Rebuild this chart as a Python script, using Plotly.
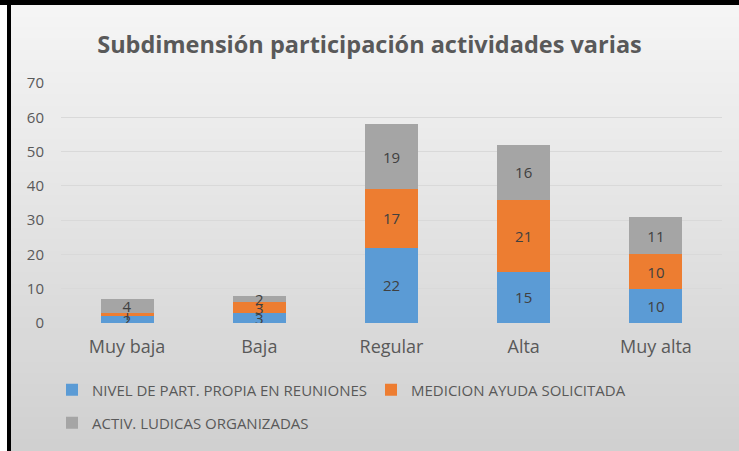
import plotly.graph_objects as go

categories = ["Muy baja", "Baja", "Regular", "Alta", "Muy alta"]
series_names = ["NIVEL DE PART. PROPIA EN REUNIONES", "MEDICION AYUDA SOLICITADA", "ACTIV. LUDICAS ORGANIZADAS"]
nivel = [2, 3, 22, 15, 10]
medicion = [1, 3, 17, 21, 10]
ludicas = [4, 2, 19, 16, 11]
y_ticks = [0, 10, 20, 30, 40, 50, 60, 70]
colors = ["#5B9BD5", "#ED7D31", "#A5A5A5"]

W, H = 739, 451
L, R, T, B = 61, 17, 83, 128
pw, ph = W - L - R, H - T - B

def px2x(px):
    return (px - L) / pw

def py2y(py):
    return (H - B - py) / ph

legend_ids = ["legend", "legend2", "legend3"]

fig = go.Figure()
for name, vals, col, lg in zip(series_names, [nivel, medicion, ludicas], colors, legend_ids):
    fig.add_trace(go.Bar(
        x=categories, y=vals, name=name, marker_color=col, marker_line_width=0,
        text=vals, textposition="inside", insidetextanchor="middle", textangle=0,
        textfont=dict(size=15, color="#404040", family="Open Sans"),
        legend=lg, showlegend=True,
    ))

shapes = []
# vertical gradient background
top_c = (245, 245, 245)
bot_c = (208, 208, 208)
n = 40
for i in range(n):
    f = i / (n - 1)
    c = tuple(int(round(top_c[k] + (bot_c[k] - top_c[k]) * f)) for k in range(3))
    y0 = 5 + (H - 5) * i / n
    y1 = 5 + (H - 5) * (i + 1) / n + 1
    shapes.append(dict(type="rect", xref="paper", yref="paper", layer="below",
                       x0=px2x(11), x1=px2x(W), y0=py2y(y1), y1=py2y(y0),
                       fillcolor="rgb(%d,%d,%d)" % c, line_width=0))
# black frame (top and left)
shapes.append(dict(type="rect", xref="paper", yref="paper", layer="below",
                   x0=px2x(0), x1=px2x(W), y0=py2y(5), y1=py2y(0),
                   fillcolor="black", line_width=0))
shapes.append(dict(type="rect", xref="paper", yref="paper", layer="below",
                   x0=px2x(7), x1=px2x(11), y0=py2y(H), y1=py2y(0),
                   fillcolor="black", line_width=0))

leg_common = dict(orientation="h", xanchor="left", yanchor="middle", visible=True,
                  font=dict(size=15, color="#595959"), bgcolor="rgba(0,0,0,0)",
                  itemwidth=30)

fig.update_layout(
    width=W, height=H, showlegend=True,
    margin=dict(l=L, r=R, t=T, b=B, pad=0, autoexpand=False),
    barmode="stack", bargap=0.6,
    paper_bgcolor="white", plot_bgcolor="rgba(0,0,0,0)",
    font=dict(family="Open Sans", color="#595959", size=12),
    title=dict(text="<b>Subdimensión participación actividades varias</b>",
               x=0.5, xanchor="center", y=1 - 45 / H, yanchor="middle",
               font=dict(size=23.5, color="#595959", family="Open Sans")),
    xaxis=dict(showgrid=False, showline=False, ticks="", tickfont=dict(size=18, color="#595959"),
               ticklabelstandoff=11),
    yaxis=dict(range=[0, 70], tickvals=y_ticks, showgrid=True, gridcolor="#d9d9d9", gridwidth=1,
               zeroline=False, showline=False, ticks="", tickfont=dict(size=15, color="#595959"),
               ticklabelstandoff=16),
    legend=dict(x=px2x(52), y=py2y(390), **leg_common),
    legend2=dict(x=px2x(371), y=py2y(390), **leg_common),
    legend3=dict(x=px2x(52), y=py2y(423), **leg_common),
    uniformtext=dict(mode="show", minsize=15),
    shapes=shapes,
)

fig.write_html("out.html", config={"displayModeBar": False},
               post_script="document.body.style.margin='0';document.body.style.overflow='hidden';")
